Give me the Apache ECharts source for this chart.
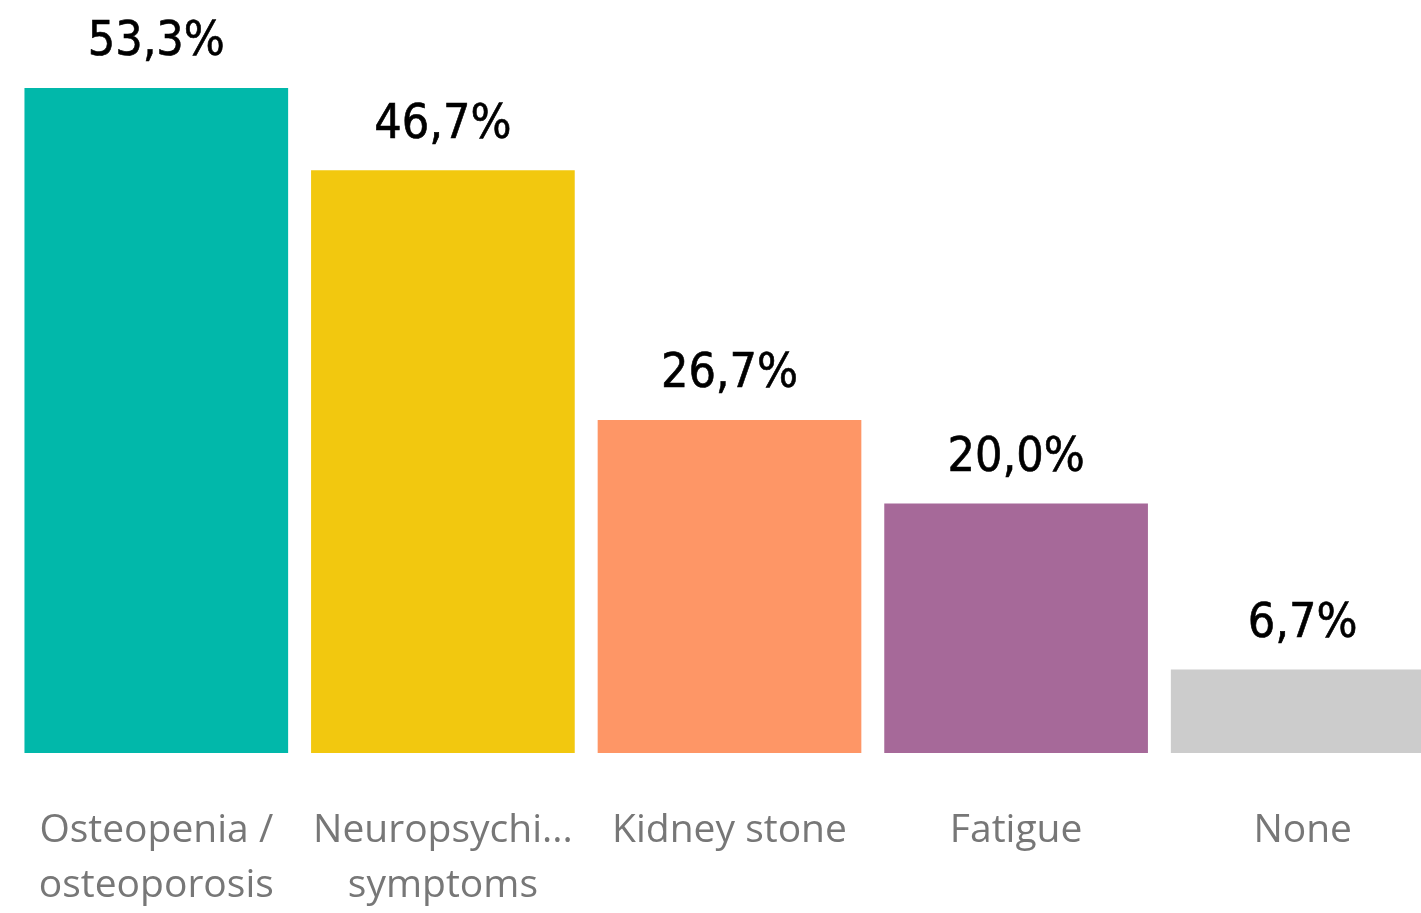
<!DOCTYPE html>
<html><head><meta charset="utf-8">
<script src="https://cdn.jsdelivr.net/npm/echarts@6/dist/echarts.min.js"></script>
<style>html,body{margin:0;padding:0;background:#fff;overflow:hidden;width:1421px;height:913px}#c{width:1446px;height:913px}</style>
</head><body><div id="c"></div>
<script>
const categories = ["Osteopenia /\nosteoporosis", "Neuropsychi...\nsymptoms", "Kidney stone", "Fatigue", "None"];
const values = [53.3, 46.7, 26.7, 20.0, 6.7];
const colors = ["#01B8AA", "#F2C80F", "#FE9666", "#A66999", "#CCCCCC"];

const chart = echarts.init(document.getElementById('c'));
chart.setOption({
  animation: false,
  grid: { left: 13, right: 0, top: 88, bottom: 159, containLabel: false },
  xAxis: {
    type: 'category', data: categories,
    axisLine: { show: false }, axisTick: { show: false },
    axisLabel: { interval: 0, margin: 50, color: '#777777', fontSize: 39, lineHeight: 55,
      fontFamily: 'Open Sans' }
  },
  yAxis: { type: 'value', min: 0, max: 53.3, show: false, splitLine: { show: false } },
  series: [{
    type: 'bar', barCategoryGap: '8%',
    data: values.map((v, i) => ({ value: v, itemStyle: { color: colors[i] } })),
    label: { show: true, position: 'top', distance: 21, color: '#000',
      fontFamily: "'DejaVu Sans Condensed', 'Roboto'", fontSize: 48,
      textBorderColor: '#000', textBorderWidth: 0.6,
      formatter: p => p.value.toFixed(1).replace('.', ',') + '%' }
  }]
});
</script></body></html>
